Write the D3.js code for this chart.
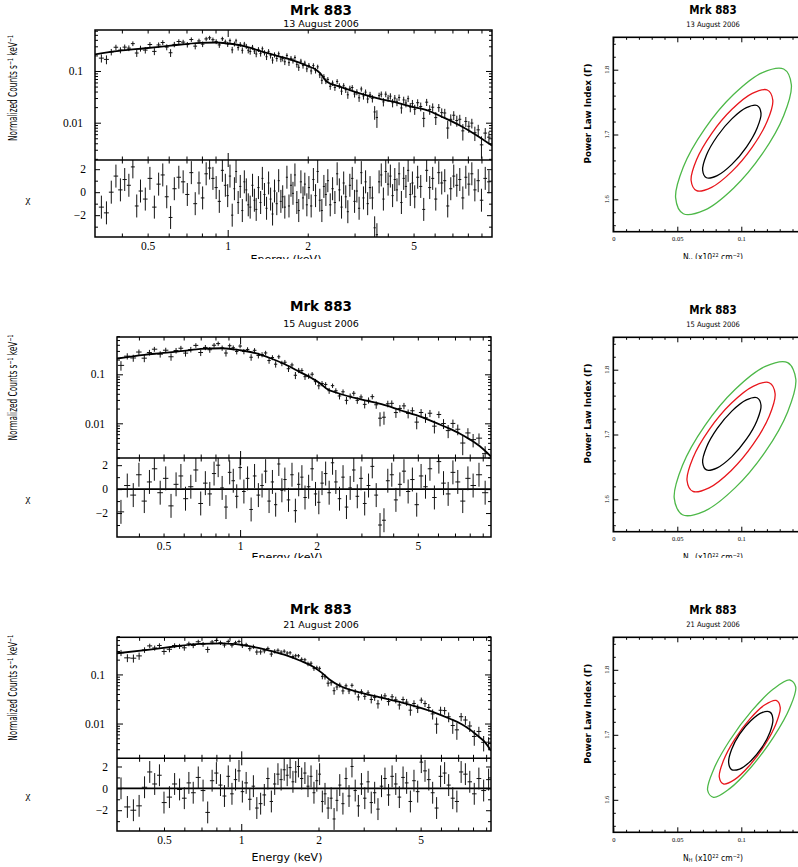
<!DOCTYPE html>
<html>
<head>
<meta charset="utf-8">
<script src="https://cdn.jsdelivr.net/npm/d3@7"></script>
<style>
  body { margin: 0; background: #fff; }
  svg { display: block; }
</style>
</head>
<body>
<svg id="fig" width="798" height="867"></svg>
<script>
// ---------------------------------------------------------------
// Mrk 883 XMM spectra (counts + residuals) and NH-Gamma contours
// ---------------------------------------------------------------

// Axis tick values
const X_TICK_LABELS = [0.5, 1, 2, 5];
const X_MAJOR = [1];
const X_MINOR = [0.4, 0.5, 0.6, 0.7, 0.8, 0.9, 2, 3, 4, 5, 6, 7, 8, 9];
const Y_TICK_LABELS = [0.01, 0.1];
const Y_MINOR = [0.002, 0.003, 0.004, 0.005, 0.006, 0.007, 0.008, 0.009,
                 0.02, 0.03, 0.04, 0.05, 0.06, 0.07, 0.08, 0.09,
                 0.2, 0.3, 0.4, 0.5, 0.6];
const CHI_TICK_LABELS = [-2, 0, 2];
const CHI_MINOR = [-3, -1, 1];
const NH_TICK_LABELS = [0, 0.05, 0.1];
const NH_MAJOR = [0, 0.05, 0.1, 0.15];
const NH_MINOR = [0.01, 0.02, 0.03, 0.04, 0.06, 0.07, 0.08, 0.09, 0.11, 0.12, 0.13, 0.14];
const GAMMA_TICK_LABELS = [1.6, 1.7, 1.8];
const GAMMA_MINOR = [1.56, 1.58, 1.62, 1.64, 1.66, 1.68, 1.72, 1.74, 1.76, 1.78, 1.82, 1.84];

// ---- 13 August 2006 ----
const ENERGY_13AUG = [
  0.335, 0.35, 0.365, 0.38, 0.395, 0.41, 0.425, 0.44, 0.455, 0.47, 0.49, 0.51, 0.53, 0.55, 0.57, 0.59,
  0.61, 0.63, 0.655, 0.68, 0.705, 0.73, 0.755, 0.78, 0.805, 0.83, 0.855, 0.88, 0.905, 0.93, 0.955, 0.98,
  1.00, 1.02, 1.04, 1.06, 1.075, 1.095, 1.115, 1.135, 1.155, 1.175, 1.195, 1.215, 1.24, 1.26, 1.28, 1.305,
  1.33, 1.35, 1.375, 1.40, 1.425, 1.45, 1.475, 1.50, 1.53, 1.555, 1.585, 1.61, 1.64, 1.67, 1.70, 1.73,
  1.76, 1.79, 1.82, 1.85, 1.885, 1.92, 1.95, 1.985,
  2.02, 2.06, 2.10, 2.14, 2.18, 2.22, 2.26, 2.30, 2.34, 2.38, 2.43, 2.48, 2.53, 2.58, 2.63, 2.68,
  2.73, 2.78, 2.83, 2.88, 2.94, 3.00, 3.06, 3.12, 3.18, 3.24, 3.30, 3.36, 3.43, 3.50, 3.57, 3.64,
  3.71, 3.78, 3.85, 3.93, 4.01, 4.09, 4.17, 4.25, 4.33, 4.41, 4.50, 4.59, 4.68, 4.77, 4.86, 4.95,
  5.05, 5.18, 5.32, 5.46, 5.60, 5.75, 5.90, 6.06, 6.22, 6.38, 6.55, 6.72, 6.90, 7.08, 7.27, 7.46,
  7.66, 7.86, 8.07, 8.28, 8.50, 8.75, 9.0, 9.3, 9.6
];
const CHI_13AUG = [
  -1.3, -1.8, 0.0, 1.4, 0.2, 1.1, 0.6, 2.2, -1.2, 0.1, -0.6, 1.2, -1.3, 0.7, 1.5, -0.4,
  -2.2, 0.3, 1.3, 0.9, -0.2, 1.7, -1.0, 0.8, -0.5, 1.6, 2.1, 1.2, 0.4, -0.8, 1.9, 0.6,
  -0.3, 1.4, -2.0, 0.3, 1.8, -0.9, 0.5, -1.6, 0.9, 0.2, -1.1, -1.3, 0.6, -0.7, -1.5, 0.4,
  -0.9, 1.2, -0.2, -1.4, 0.8, -0.6, -1.9, 0.1, -1.0, 1.0, -0.8, -0.4, -1.3, 1.3, -1.2, 0.6,
  -0.1, 1.5, -0.9, -1.6, 0.9, -0.5, 0.7, -1.1,
  0.4, -1.2, 1.1, -0.3, 1.8, -0.7, -1.6, 0.5, -0.2, 1.0, -1.1, 0.3, -0.9, 1.6, 0.2, -1.3,
  0.8, -0.4, -1.7, 0.6, 1.2, -0.8, 0.1, -1.4, 1.7, -0.5, 0.9, -1.0, 0.4, -0.5, -3.1, -3.7,
  0.9, 1.5, -0.6, 1.8, 0.7, 1.4, -0.3, 1.1, 0.2, 1.6, -0.9, 1.2, 0.5, 1.9, -0.2, 0.8,
  -0.4, 1.3, 0.5, -1.5, 1.9, 0.4, 1.2, -0.6, 1.7, 0.8, 1.0, -1.2, 0.3, 1.4, 0.6, 1.1,
  -0.5, 1.3, 0.7, 1.6, 0.2, 1.0, -0.7, 1.2, 0.9
];
const MODEL_E_13AUG = [0.317, 0.39, 0.49, 0.61, 0.79, 0.9, 1.0, 1.16, 1.32, 1.57, 1.76, 2.0, 2.12, 2.22,
                       2.36, 2.64, 3.14, 3.73, 4.19, 5.0, 5.6, 6.5, 7.47, 8.5, 9.86];
const MODEL_C_13AUG = [0.21, 0.245, 0.275, 0.31, 0.35, 0.355, 0.34, 0.30, 0.245, 0.19, 0.16, 0.125, 0.11, 0.092,
                       0.062, 0.05, 0.037, 0.029, 0.0255, 0.02, 0.0175, 0.0125, 0.0088, 0.006, 0.0036];
const ERR_E = [0.3, 0.5, 1, 2, 3, 5, 7, 10];
const ERR_13AUG = [0.15, 0.13, 0.11, 0.12, 0.13, 0.20, 0.27, 0.38];

// ---- 15 August 2006 ----
const ENERGY_15AUG = [
  0.34, 0.36, 0.38, 0.40, 0.42, 0.44, 0.46, 0.485, 0.51, 0.535, 0.56, 0.585, 0.61, 0.64, 0.67, 0.70,
  0.73, 0.76, 0.79, 0.82, 0.85, 0.88, 0.91, 0.94, 0.97,
  1.00, 1.035, 1.07, 1.105, 1.14, 1.18, 1.22, 1.26, 1.30, 1.34, 1.38, 1.42, 1.46, 1.50, 1.55, 1.60,
  1.65, 1.70, 1.75, 1.80, 1.86, 1.92, 1.98,
  2.04, 2.10, 2.17, 2.24, 2.31, 2.38, 2.46, 2.54, 2.62, 2.71, 2.80, 2.89, 2.99, 3.09, 3.20, 3.31,
  3.43, 3.55, 3.68, 3.81, 3.95, 4.10, 4.25, 4.41, 4.58, 4.76, 4.95,
  5.15, 5.36, 5.58, 5.81, 6.05, 6.31, 6.58, 6.87, 7.18, 7.51, 7.87, 8.25, 8.70, 9.2
];
const CHI_15AUG = [
  -1.9, 0.3, -0.5, 1.2, -1.0, 0.6, 1.7, -0.3, 0.9, -1.4, 0.4, 1.1, -0.8, 0.2, 1.6, -1.2,
  0.5, -0.4, 1.3, 2.0, 0.1, -1.5, 1.4, 0.7, -0.6,
  1.8, -0.2, 0.9, -1.7, 1.1, -0.5, 0.3, 1.5, -1.0, 0.6, -1.3, 2.1, -0.1, 0.8, -0.9, 1.2,
  -1.8, 0.4, 1.0, -0.7, 0.2, 1.7, -0.4,
  -1.1, 0.5, 1.3, -0.3, 2.2, 0.6, -0.8, 1.0, -1.5, 0.1, 1.6, -0.6, 0.9, -1.2, 0.3, 1.9,
  -0.5, -3.0, -2.6, 0.7, 1.2, -0.9, 0.4, 1.5, -0.2, 0.8, -1.3,
  1.1, 0.2, 1.7, -0.7, 2.3, 0.5, -0.4, 1.4, 0.6, -1.0, 0.9, 0.3, 1.2, -0.3
];
const MODEL_E_15AUG = [0.328, 0.42, 0.49, 0.6, 0.7, 0.85, 1.0, 1.15, 1.31, 1.5, 1.72, 1.9, 2.06, 2.2,
                       2.4, 2.96, 3.6, 4.25, 4.9, 5.58, 6.4, 7.3, 8.0, 8.77, 9.7];
const MODEL_C_15AUG = [0.21, 0.25, 0.27, 0.30, 0.33, 0.34, 0.31, 0.27, 0.215, 0.16, 0.111, 0.085, 0.066, 0.05,
                       0.042, 0.031, 0.0245, 0.0187, 0.0148, 0.0115, 0.0085, 0.0062, 0.0047, 0.0034, 0.0021];
const ERR_15AUG = [0.16, 0.14, 0.12, 0.13, 0.14, 0.21, 0.28, 0.40];

// ---- 21 August 2006 ----
const ENERGY_21AUG = [
  0.34, 0.36, 0.38, 0.40, 0.42, 0.44, 0.46, 0.48, 0.50, 0.525, 0.55, 0.575, 0.60, 0.625, 0.65, 0.68,
  0.71, 0.74, 0.77, 0.80, 0.83, 0.86, 0.89, 0.92, 0.95, 0.98,
  1.01, 1.045, 1.08, 1.115, 1.15, 1.19, 1.23, 1.27, 1.31, 1.35, 1.39, 1.43, 1.47, 1.51, 1.55, 1.59,
  1.63, 1.67, 1.72, 1.77, 1.82, 1.87, 1.92, 1.97,
  2.02, 2.07, 2.12, 2.18, 2.24, 2.30, 2.36, 2.42, 2.49, 2.56, 2.63, 2.70, 2.78, 2.86, 2.94, 3.03,
  3.12, 3.21, 3.31, 3.41, 3.52, 3.63, 3.75, 3.87, 4.00, 4.13, 4.27, 4.41, 4.56, 4.71, 4.87,
  5.03, 5.20, 5.38, 5.57, 5.77, 5.98, 6.20, 6.43, 6.67, 6.92, 7.19, 7.47, 7.77, 8.09, 8.43, 8.80, 9.2
];
const CHI_21AUG = [
  0.0, -1.7, -2.0, -1.6, 0.1, 1.5, 0.4, 1.2, -1.3, -0.8, 0.4, -0.1, -0.9, 0.5, -0.4, 1.0,
  -0.2, -2.2, 0.7, 1.4, 0.3, -0.7, 1.1, -0.5, 0.8, 1.6,
  -0.3, 0.5, -1.0, 0.2, -1.8, -1.4, -0.6, 0.9, -1.2, 0.4, 1.3, 0.8, 1.7, 1.2, 1.9, 0.6,
  1.5, 2.0, 0.9, 1.4, 0.2, 1.1, -0.4, 0.7,
  1.3, -1.2, -0.5, -1.8, -0.9, -2.8, -1.1, 0.3, -1.4, 0.9, -0.7, 2.0, -0.2, -1.6, 0.4, -0.9,
  0.6, -1.3, -0.4, -1.9, 0.2, 0.9, -0.6, 1.1, 0.4, -0.8, 1.0, 0.5, -1.2, 0.7, -0.3,
  2.4, 1.6, 0.8, -0.4, -1.8, 1.1, 1.4, 0.3, -0.9, -1.2, 1.5, 1.3, 0.6, -0.5, 0.9, -0.2, 0.8
];
const MODEL_E_21AUG = [0.328, 0.44, 0.55, 0.69, 0.85, 1.0, 1.15, 1.3, 1.5, 1.7, 1.9, 2.05, 2.2, 2.43,
                       2.8, 3.47, 4.2, 4.96, 5.7, 6.5, 7.2, 7.8, 8.5, 8.9, 9.4];
const MODEL_C_21AUG = [0.27, 0.32, 0.37, 0.42, 0.43, 0.40, 0.35, 0.30, 0.245, 0.19, 0.145, 0.11, 0.08, 0.058,
                       0.045, 0.034, 0.027, 0.021, 0.0165, 0.0125, 0.0098, 0.0075, 0.0052, 0.0042, 0.0028];
const ERR_21AUG = [0.15, 0.12, 0.10, 0.11, 0.13, 0.19, 0.26, 0.36];

// ---- NH / Gamma confidence contours (68%, 90%, 99%): [NH (1e22 cm^-2), Gamma] ----
const CONTOUR_13AUG_68 = [[0.1154, 1.7331], [0.1123, 1.7097], [0.1040, 1.6807], [0.0926, 1.6539],
  [0.0812, 1.6366], [0.0728, 1.6333], [0.0698, 1.6449], [0.0728, 1.6683], [0.0812, 1.6973],
  [0.0926, 1.7241], [0.1040, 1.7414], [0.1123, 1.7447]];
const CONTOUR_13AUG_90 = [[0.1246, 1.7530], [0.1203, 1.7207], [0.1086, 1.6805], [0.0927, 1.6431],
  [0.0768, 1.6185], [0.0651, 1.6133], [0.0608, 1.6290], [0.0651, 1.6613], [0.0768, 1.7015],
  [0.0927, 1.7389], [0.1086, 1.7635], [0.1203, 1.7687]];
const CONTOUR_13AUG_99 = [[0.1391, 1.7767], [0.1331, 1.7289], [0.1165, 1.6704], [0.0939, 1.6171],
  [0.0713, 1.5832], [0.0547, 1.5777], [0.0487, 1.6021], [0.0547, 1.6499], [0.0713, 1.7084],
  [0.0939, 1.7617], [0.1165, 1.7956], [0.1331, 1.8011]];
const CONTOUR_15AUG_68 = [[0.1154, 1.7451], [0.1123, 1.7217], [0.1040, 1.6927], [0.0926, 1.6659],
  [0.0812, 1.6486], [0.0728, 1.6453], [0.0698, 1.6569], [0.0728, 1.6803], [0.0812, 1.7093],
  [0.0926, 1.7361], [0.1040, 1.7534], [0.1123, 1.7567]];
const CONTOUR_15AUG_90 = [[0.1264, 1.7630], [0.1218, 1.7281], [0.1092, 1.6847], [0.0920, 1.6442],
  [0.0748, 1.6177], [0.0622, 1.6121], [0.0576, 1.6290], [0.0622, 1.6639], [0.0748, 1.7073],
  [0.0920, 1.7478], [0.1092, 1.7743], [0.1218, 1.7799]];
const CONTOUR_15AUG_99 = [[0.1426, 1.7852], [0.1362, 1.7349], [0.1188, 1.6736], [0.0951, 1.6176],
  [0.0714, 1.5819], [0.0540, 1.5762], [0.0476, 1.6018], [0.0540, 1.6521], [0.0714, 1.7134],
  [0.0951, 1.7694], [0.1188, 1.8051], [0.1362, 1.8108]];
const CONTOUR_21AUG_68 = [[0.1247, 1.7239], [0.1224, 1.7040], [0.1161, 1.6805], [0.1074, 1.6598],
  [0.0987, 1.6473], [0.0924, 1.6465], [0.0901, 1.6575], [0.0924, 1.6774], [0.0987, 1.7009],
  [0.1074, 1.7216], [0.1161, 1.7341], [0.1224, 1.7349]];
const CONTOUR_21AUG_90 = [[0.1304, 1.7423], [0.1272, 1.7174], [0.1185, 1.6847], [0.1066, 1.6532],
  [0.0947, 1.6311], [0.0860, 1.6245], [0.0828, 1.6351], [0.0860, 1.6600], [0.0947, 1.6927],
  [0.1066, 1.7242], [0.1185, 1.7463], [0.1272, 1.7529]];
const CONTOUR_21AUG_99 = [[0.1425, 1.7736], [0.1379, 1.7416], [0.1253, 1.6968], [0.1081, 1.6513],
  [0.0909, 1.6172], [0.0783, 1.6037], [0.0737, 1.6144], [0.0783, 1.6464], [0.0909, 1.6912],
  [0.1081, 1.7367], [0.1253, 1.7708], [0.1379, 1.7843]];

const OBJECT_NAME = "Mrk 883";
const DATES = ["13 August 2006", "15 August 2006", "21 August 2006"];

// ---------------------------------------------------------------
const FONT_SANS = "'DejaVu Sans', Verdana, sans-serif";
const FONT_NARROW = "'Liberation Sans Narrow', 'DejaVu Sans Condensed', 'Open Sans', sans-serif";
const FONT_SERIF = "'Liberation Serif', 'DejaVu Serif', serif";

const svg = d3.select("#fig");
const defs = svg.append("defs");
let clipCount = 0;
function clipRect(x, y, w, h) {
  const id = "clip" + (clipCount++);
  defs.append("clipPath").attr("id", id)
    .append("rect").attr("x", x).attr("y", y).attr("width", w).attr("height", h);
  return `url(#${id})`;
}

// piecewise-linear interpolation in log-log space
function logLogAt(xs, ys, e) {
  let i = d3.bisectRight(xs, e) - 1;
  i = Math.max(0, Math.min(xs.length - 2, i));
  const x0 = Math.log10(xs[i]), x1 = Math.log10(xs[i + 1]);
  const t = (Math.log10(e) - x0) / (x1 - x0);
  const y0 = Math.log10(ys[i]), y1 = Math.log10(ys[i + 1]);
  return Math.pow(10, y0 + t * (y1 - y0));
}
function linLogAt(xs, ys, e) {
  let i = d3.bisectRight(xs, e) - 1;
  i = Math.max(0, Math.min(xs.length - 2, i));
  const t = (Math.log10(e) - Math.log10(xs[i])) / (Math.log10(xs[i + 1]) - Math.log10(xs[i]));
  return ys[i] + t * (ys[i + 1] - ys[i]);
}
// geometric bin edges around each channel centre
function binEdges(E) {
  return E.map((e, i) => {
    const hi = i < E.length - 1 ? Math.sqrt(e * E[i + 1]) : e * Math.sqrt(e / E[i - 1]);
    const lo = i > 0 ? Math.sqrt(E[i - 1] * e) : e / Math.sqrt(E[i + 1] / e);
    return [lo, hi];
  });
}

// inward-pointing ticks built from d3 axes
function tickRow(g, axisFn, scale, values, len, transform) {
  const ax = axisFn(scale).tickValues(values).tickSize(-len).tickFormat("");
  const sel = g.append("g").attr("transform", transform).call(ax);
  sel.select(".domain").remove();
  sel.selectAll(".tick line").attr("stroke", "#000").attr("stroke-width", 1);
  return sel;
}

function labelRow(g, axisFn, scale, values, fmt, pad, transform, font, size) {
  const ax = axisFn(scale).tickValues(values).tickSize(0).tickPadding(pad).tickFormat(fmt);
  const sel = g.append("g").attr("transform", transform).call(ax);
  sel.select(".domain").remove();
  sel.selectAll(".tick line").remove();
  sel.selectAll("text").attr("font-family", font).attr("font-size", size).attr("fill", "#000");
  return sel;
}

const fmtNum = d => (d < 0 ? "\u2212" + Math.abs(d) : String(d));

function drawSpectrum(p) {
  const root = svg.append("g").attr("clip-path", clipRect(0, p.rowTop, 560, p.rowBottom - p.rowTop));
  const x = d3.scaleLog().domain(p.xDomain).range([p.left, p.right]);
  const y = d3.scaleLog().domain(p.yDomain).range([p.mid, p.top]);
  const r = d3.scaleLinear().domain(p.rDomain).range([p.bottom, p.mid]);
  const W = p.right - p.left;

  // titles
  root.append("text").attr("x", p.titleX).attr("y", p.titleY).attr("text-anchor", "middle")
    .attr("font-family", FONT_SANS).attr("font-weight", "bold").attr("font-size", 13.5)
    .text(OBJECT_NAME);
  root.append("text").attr("x", p.titleX).attr("y", p.dateY).attr("text-anchor", "middle")
    .attr("font-family", FONT_SANS).attr("font-size", 9.5)
    .text(p.date);

  // channels: model value, 1-sigma error and data value from the residual
  const E = p.energy.slice(0, Math.min(p.energy.length, p.chi.length));
  const edges = binEdges(E);
  const pts = E.map((e, i) => {
    const m = logLogAt(p.modelE, p.modelC, e);
    const s = m * linLogAt(ERR_E, p.err, e);
    const v = m + p.chi[i] * s;
    return { e, lo: edges[i][0], hi: edges[i][1], v, s, chi: p.chi[i] };
  });

  // upper panel: normalised counts
  const up = root.append("g").attr("clip-path", clipRect(p.left, p.top, W, p.mid - p.top));
  const yMin = p.yDomain[0];
  up.append("path")
    .attr("d", pts.map(d => {
      const yv = y(d.v), y0 = y(Math.max(yMin * 0.5, d.v - d.s)), y1 = y(d.v + d.s);
      return `M${x(d.lo)},${yv}H${x(d.hi)}M${x(d.e)},${y0}V${y1}`;
    }).join(""))
    .attr("fill", "none").attr("stroke", "#111").attr("stroke-width", 1);
  up.append("path")
    .datum(p.modelE.map((e, i) => [e, p.modelC[i]]))
    .attr("d", d3.line().x(d => x(d[0])).y(d => y(d[1])).curve(d3.curveMonotoneX))
    .attr("fill", "none").attr("stroke", "#000").attr("stroke-width", 1.8);

  // lower panel: residuals
  const lo = root.append("g").attr("clip-path", clipRect(p.left, p.mid, W, p.bottom - p.mid));
  if (p.zeroLine) {
    lo.append("line").attr("x1", p.left).attr("x2", p.right).attr("y1", r(0)).attr("y2", r(0))
      .attr("stroke", "#000").attr("stroke-width", 1.6);
  }
  lo.append("path")
    .attr("d", pts.map(d =>
      `M${x(d.lo)},${r(d.chi)}H${x(d.hi)}M${x(d.e)},${r(d.chi - 1)}V${r(d.chi + 1)}`).join(""))
    .attr("fill", "none").attr("stroke", "#111").attr("stroke-width", 1);

  // ticks: upper panel
  tickRow(root, d3.axisTop, x, X_MAJOR, 7, `translate(0,${p.top})`);
  tickRow(root, d3.axisTop, x, X_MINOR, 3.5, `translate(0,${p.top})`);
  tickRow(root, d3.axisBottom, x, X_MAJOR, 7, `translate(0,${p.mid})`);
  tickRow(root, d3.axisBottom, x, X_MINOR, 3.5, `translate(0,${p.mid})`);
  tickRow(root, d3.axisLeft, y, Y_TICK_LABELS, 6, `translate(${p.left},0)`);
  tickRow(root, d3.axisLeft, y, Y_MINOR, 3, `translate(${p.left},0)`);
  tickRow(root, d3.axisRight, y, Y_TICK_LABELS, 6, `translate(${p.right},0)`);
  tickRow(root, d3.axisRight, y, Y_MINOR, 3, `translate(${p.right},0)`);
  // ticks: residual panel
  tickRow(root, d3.axisTop, x, X_MAJOR, 7, `translate(0,${p.mid})`);
  tickRow(root, d3.axisTop, x, X_MINOR, 3.5, `translate(0,${p.mid})`);
  tickRow(root, d3.axisBottom, x, X_MAJOR, 7, `translate(0,${p.bottom})`);
  tickRow(root, d3.axisBottom, x, X_MINOR, 3.5, `translate(0,${p.bottom})`);
  tickRow(root, d3.axisLeft, r, CHI_TICK_LABELS, 5, `translate(${p.left},0)`);
  tickRow(root, d3.axisLeft, r, CHI_MINOR, 3, `translate(${p.left},0)`);
  tickRow(root, d3.axisRight, r, CHI_TICK_LABELS, 5, `translate(${p.right},0)`);
  tickRow(root, d3.axisRight, r, CHI_MINOR, 3, `translate(${p.right},0)`);

  // frames
  root.append("rect").attr("x", p.left).attr("y", p.top).attr("width", W).attr("height", p.bottom - p.top)
    .attr("fill", "none").attr("stroke", "#000").attr("stroke-width", 1.5);
  root.append("line").attr("x1", p.left).attr("x2", p.right).attr("y1", p.mid).attr("y2", p.mid)
    .attr("stroke", "#000").attr("stroke-width", 1.5);

  // tick labels
  labelRow(root, d3.axisLeft, y, Y_TICK_LABELS, d => String(d), 12, `translate(${p.left},0)`, FONT_SERIF, 11.5);
  labelRow(root, d3.axisLeft, r, CHI_TICK_LABELS, fmtNum, 9, `translate(${p.left},0)`, FONT_SERIF, 11.5);
  labelRow(root, d3.axisBottom, x, X_TICK_LABELS, d => String(d), 5, `translate(0,${p.bottom})`, FONT_SERIF, 11.5);

  // axis titles
  const yl = root.append("text")
    .attr("transform", `translate(${p.yLabelX},${(p.top + p.mid) / 2 + p.yLabelDy}) rotate(-90)`)
    .attr("text-anchor", "middle").attr("font-family", FONT_NARROW).attr("font-size", 11.5)
    .attr("textLength", 106).attr("lengthAdjust", "spacingAndGlyphs");
  yl.append("tspan").text("Normalized Counts s");
  yl.append("tspan").attr("dy", -4).attr("font-size", 7.5).text("\u22121");
  yl.append("tspan").attr("dy", 4).text(" keV");
  yl.append("tspan").attr("dy", -4).attr("font-size", 7.5).text("\u22121");
  root.append("text").attr("x", 28).attr("y", (p.mid + p.bottom) / 2 + 4)
    .attr("text-anchor", "middle").attr("font-family", FONT_SERIF).attr("font-size", 11)
    .text("\u03C7");
  root.append("text").attr("x", p.energyX).attr("y", p.energyY).attr("text-anchor", "middle")
    .attr("font-family", FONT_SANS).attr("font-size", 11).text("Energy (keV)");
}

function drawContours(p) {
  const root = svg.append("g").attr("clip-path", clipRect(560, p.rowTop, 240, p.rowBottom - p.rowTop));
  const left = 613.3, right = 805.3;
  const x = d3.scaleLinear().domain([0, 0.15]).range([left, right]);
  const y = d3.scaleLinear().domain([1.55, 1.85]).range([p.bottom, p.top]);

  root.append("text").attr("x", 713).attr("y", p.top - 23).attr("text-anchor", "middle")
    .attr("font-family", FONT_NARROW).attr("font-weight", "bold").attr("font-size", 11.5)
    .text(OBJECT_NAME);
  root.append("text").attr("x", 713).attr("y", p.top - 10.5).attr("text-anchor", "middle")
    .attr("font-family", FONT_NARROW).attr("font-size", 7.5)
    .text(p.date);

  const area = root.append("g").attr("clip-path", clipRect(left, p.top, right - left, p.bottom - p.top));
  const line = d3.line().x(d => x(d[0])).y(d => y(d[1])).curve(d3.curveCatmullRomClosed.alpha(0.5));
  p.contours.forEach(c => {
    area.append("path").datum(c.pts).attr("d", line)
      .attr("fill", "none").attr("stroke", c.color).attr("stroke-width", 1.3);
  });

  tickRow(root, d3.axisBottom, x, NH_MAJOR, 5, `translate(0,${p.bottom})`);
  tickRow(root, d3.axisBottom, x, NH_MINOR, 2.5, `translate(0,${p.bottom})`);
  tickRow(root, d3.axisTop, x, NH_MAJOR, 5, `translate(0,${p.top})`);
  tickRow(root, d3.axisTop, x, NH_MINOR, 2.5, `translate(0,${p.top})`);
  tickRow(root, d3.axisLeft, y, GAMMA_TICK_LABELS, 5, `translate(${left},0)`);
  tickRow(root, d3.axisLeft, y, GAMMA_MINOR, 2.5, `translate(${left},0)`);

  root.append("rect").attr("x", left).attr("y", p.top).attr("width", right - left).attr("height", p.bottom - p.top)
    .attr("fill", "none").attr("stroke", "#000").attr("stroke-width", 1.6);

  labelRow(root, d3.axisBottom, x, NH_TICK_LABELS, d => String(d), 5, `translate(0,${p.bottom})`, FONT_SERIF, 6.5);
  const gl = root.append("g");
  GAMMA_TICK_LABELS.forEach(v => {
    gl.append("text").attr("transform", `translate(${left - 4.5},${y(v)}) rotate(-90)`)
      .attr("text-anchor", "middle").attr("font-family", FONT_SERIF).attr("font-size", 6.5).text(String(v));
  });

  root.append("text")
    .attr("transform", `translate(${591},${(p.top + p.bottom) / 2 - 21}) rotate(-90)`)
    .attr("text-anchor", "middle").attr("font-family", FONT_SANS).attr("font-weight", "bold")
    .attr("font-size", 8.2).attr("textLength", 100).attr("lengthAdjust", "spacingAndGlyphs")
    .text("Power Law Index (\u0393)");
  const xl = root.append("text").attr("x", 713).attr("y", p.bottom + 28.5).attr("text-anchor", "middle")
    .attr("font-family", FONT_NARROW).attr("font-size", 8.5);
  xl.append("tspan").text("N");
  xl.append("tspan").attr("dy", 1.5).attr("font-size", 5.5).text("H");
  xl.append("tspan").attr("dy", -1.5).text(" (x10");
  xl.append("tspan").attr("dy", -3).attr("font-size", 5.5).text("22");
  xl.append("tspan").attr("dy", 3).text(" cm");
  xl.append("tspan").attr("dy", -3).attr("font-size", 5.5).text("\u22122");
  xl.append("tspan").attr("dy", 3).text(")");
}

// ---- layout of the three rows ----
drawSpectrum({
  date: DATES[0], rowTop: 0, rowBottom: 259,
  left: 95, right: 492, top: 30, mid: 160, bottom: 237,
  xDomain: [0.317, 9.86], yDomain: [0.0019, 0.62], rDomain: [-3.9, 2.8],
  energy: ENERGY_13AUG, chi: CHI_13AUG, modelE: MODEL_E_13AUG, modelC: MODEL_C_13AUG, err: ERR_13AUG,
  zeroLine: false, titleX: 321, titleY: 15, dateY: 27,
  yLabelX: 17, yLabelDy: -7, energyX: 286, energyY: 263
});
drawSpectrum({
  date: DATES[1], rowTop: 290, rowBottom: 558,
  left: 117, right: 491, top: 337, mid: 458, bottom: 537,
  xDomain: [0.328, 9.7], yDomain: [0.00196, 0.577], rDomain: [-4.0, 2.6],
  energy: ENERGY_15AUG, chi: CHI_15AUG, modelE: MODEL_E_15AUG, modelC: MODEL_C_15AUG, err: ERR_15AUG,
  zeroLine: true, titleX: 321, titleY: 311, dateY: 327,
  yLabelX: 17, yLabelDy: -10, energyX: 287, energyY: 561
});
drawSpectrum({
  date: DATES[2], rowTop: 590, rowBottom: 867,
  left: 117, right: 491, top: 637.3, mid: 758.3, bottom: 831,
  xDomain: [0.328, 9.4], yDomain: [0.00196, 0.57], rDomain: [-3.9, 2.75],
  energy: ENERGY_21AUG, chi: CHI_21AUG, modelE: MODEL_E_21AUG, modelC: MODEL_C_21AUG, err: ERR_21AUG,
  zeroLine: true, titleX: 321, titleY: 614, dateY: 628,
  yLabelX: 17, yLabelDy: -10, energyX: 287, energyY: 861
});

const GREEN = "#4db848", RED = "#e8161c", BLACK = "#000";
drawContours({ date: DATES[0], rowTop: 0, rowBottom: 259, top: 37.3, bottom: 231.7,
  contours: [{ pts: CONTOUR_13AUG_99, color: GREEN }, { pts: CONTOUR_13AUG_90, color: RED },
             { pts: CONTOUR_13AUG_68, color: BLACK }] });
drawContours({ date: DATES[1], rowTop: 290, rowBottom: 558, top: 337.3, bottom: 531.7,
  contours: [{ pts: CONTOUR_15AUG_99, color: GREEN }, { pts: CONTOUR_15AUG_90, color: RED },
             { pts: CONTOUR_15AUG_68, color: BLACK }] });
drawContours({ date: DATES[2], rowTop: 590, rowBottom: 867, top: 637.3, bottom: 832.3,
  contours: [{ pts: CONTOUR_21AUG_99, color: GREEN }, { pts: CONTOUR_21AUG_90, color: RED },
             { pts: CONTOUR_21AUG_68, color: BLACK }] });
</script>
</body>
</html>
